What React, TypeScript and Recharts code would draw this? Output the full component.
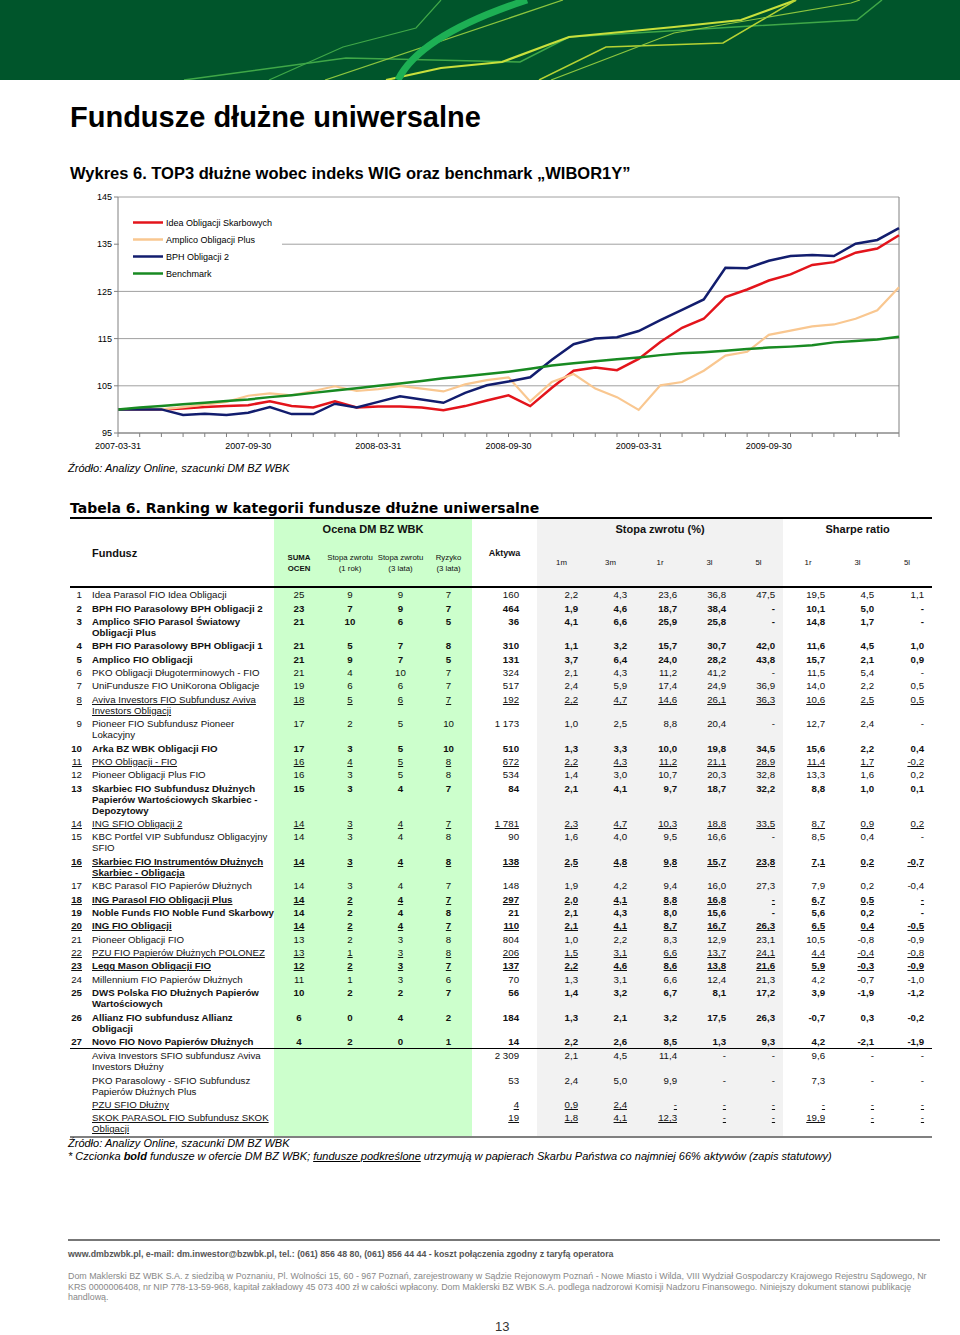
import React from "react";
import { LineChart, Line, XAxis, YAxis, CartesianGrid, Legend, ReferenceLine } from "recharts";

// month-end dates, 2007-03 .. 2010-03
const dates = [
  "2007-03-31", "2007-04-30", "2007-05-31", "2007-06-30", "2007-07-31", "2007-08-31",
  "2007-09-30", "2007-10-31", "2007-11-30", "2007-12-31", "2008-01-31", "2008-02-29",
  "2008-03-31", "2008-04-30", "2008-05-31", "2008-06-30", "2008-07-31", "2008-08-31",
  "2008-09-30", "2008-10-31", "2008-11-30", "2008-12-31", "2009-01-31", "2009-02-28",
  "2009-03-31", "2009-04-30", "2009-05-31", "2009-06-30", "2009-07-31", "2009-08-31",
  "2009-09-30", "2009-10-31", "2009-11-30", "2009-12-31", "2010-01-31", "2010-02-28",
  "2010-03-31",
];

const ideaObligacji = [
  100.0, 100.0, 100.0, 100.2, 100.5, 100.7, 100.9, 101.7, 100.7, 100.4, 101.7, 100.4,
  100.6, 100.6, 100.4, 99.8, 100.7, 101.9, 103.0, 100.7, 104.6, 108.2, 108.9, 108.3,
  110.7, 114.3, 117.3, 119.2, 123.8, 125.4, 127.3, 128.6, 130.6, 131.2, 133.2, 134.1,
  136.9,
];
const amplicoPlus = [
  100.0, 100.0, 100.0, 100.5, 101.0, 101.6, 102.9, 103.4, 103.0, 103.9, 104.9, 103.9,
  104.3, 105.0, 104.4, 103.8, 105.3, 106.2, 106.8, 101.7, 105.8, 107.5, 104.4, 102.6,
  99.9, 105.1, 105.8, 108.2, 111.4, 112.2, 115.8, 116.7, 117.6, 118.0, 119.2, 121.0,
  125.9,
];
const bphObligacji2 = [
  100.0, 100.0, 100.0, 98.8, 99.1, 98.8, 99.3, 100.5, 99.0, 99.0, 101.2, 100.4,
  101.6, 102.8, 102.1, 101.4, 103.5, 105.1, 105.9, 106.8, 110.5, 113.8, 115.0, 115.3,
  116.6, 118.9, 121.1, 123.3, 130.0, 129.9, 131.5, 132.5, 132.7, 132.5, 135.1, 135.9,
  138.4,
];
const benchmark = [
  100.0, 100.4, 100.7, 101.1, 101.4, 101.8, 102.1, 102.6, 103.0, 103.5, 104.0, 104.5,
  105.0, 105.5, 106.0, 106.6, 107.0, 107.5, 108.0, 108.6, 109.3, 109.8, 110.2, 110.6,
  111.0, 111.5, 111.9, 112.1, 112.4, 112.8, 113.1, 113.3, 113.6, 114.2, 114.5, 114.8,
  115.4,
];

const seriesNames = ["Idea Obligacji Skarbowych", "Amplico Obligacji Plus", "BPH Obligacji 2", "Benchmark"];
const yTicks = [95, 105, 115, 125, 135, 145];

const data = dates.map((d, i) => ({
  date: d,
  idea: ideaObligacji[i],
  amplico: amplicoPlus[i],
  bph: bphObligacji2[i],
  bench: benchmark[i],
}));

// table: rank, fund, suma, st.zw 1r, st.zw 3l, ryzyko, aktywa, 1m, 3m, 1r, 3l, 5l, sharpe 1r, 3l, 5l, style
type Row = string[];
const rankingRows: Row[] = [
  ["1", "Idea Parasol FIO Idea Obligacji", "25", "9", "9", "7", "160", "2,2", "4,3", "23,6", "36,8", "47,5", "19,5", "4,5", "1,1", ""],
  ["2", "BPH FIO Parasolowy BPH Obligacji 2", "23", "7", "9", "7", "464", "1,9", "4,6", "18,7", "38,4", "-", "10,1", "5,0", "-", "b"],
  ["3", "Amplico SFIO Parasol Światowy\nObligacji Plus", "21", "10", "6", "5", "36", "4,1", "6,6", "25,9", "25,8", "-", "14,8", "1,7", "-", "b"],
  ["4", "BPH FIO Parasolowy BPH Obligacji 1", "21", "5", "7", "8", "310", "1,1", "3,2", "15,7", "30,7", "42,0", "11,6", "4,5", "1,0", "b"],
  ["5", "Amplico FIO Obligacji", "21", "9", "7", "5", "131", "3,7", "6,4", "24,0", "28,2", "43,8", "15,7", "2,1", "0,9", "b"],
  ["6", "PKO Obligacji Długoterminowych - FIO", "21", "4", "10", "7", "324", "2,1", "4,3", "11,2", "41,2", "-", "11,5", "5,4", "-", ""],
  ["7", "UniFundusze FIO UniKorona Obligacje", "19", "6", "6", "7", "517", "2,4", "5,9", "17,4", "24,9", "36,9", "14,0", "2,2", "0,5", ""],
  ["8", "Aviva Investors FIO Subfundusz Aviva\nInvestors Obligacji", "18", "5", "6", "7", "192", "2,2", "4,7", "14,6", "26,1", "36,3", "10,6", "2,5", "0,5", "u"],
  ["9", "Pioneer FIO Subfundusz Pioneer\nLokacyjny", "17", "2", "5", "10", "1 173", "1,0", "2,5", "8,8", "20,4", "-", "12,7", "2,4", "-", ""],
  ["10", "Arka BZ WBK Obligacji FIO", "17", "3", "5", "10", "510", "1,3", "3,3", "10,0", "19,8", "34,5", "15,6", "2,2", "0,4", "b"],
  ["11", "PKO Obligacji - FIO", "16", "4", "5", "8", "672", "2,2", "4,3", "11,2", "21,1", "28,9", "11,4", "1,7", "-0,2", "u"],
  ["12", "Pioneer Obligacji Plus FIO", "16", "3", "5", "8", "534", "1,4", "3,0", "10,7", "20,3", "32,8", "13,3", "1,6", "0,2", ""],
  ["13", "Skarbiec FIO Subfundusz Dłużnych\nPapierów Wartościowych Skarbiec -\nDepozytowy", "15", "3", "4", "7", "84", "2,1", "4,1", "9,7", "18,7", "32,2", "8,8", "1,0", "0,1", "b"],
  ["14", "ING SFIO Obligacji 2", "14", "3", "4", "7", "1 781", "2,3", "4,7", "10,3", "18,8", "33,5", "8,7", "0,9", "0,2", "u"],
  ["15", "KBC Portfel VIP Subfundusz Obligacyjny\nSFIO", "14", "3", "4", "8", "90", "1,6", "4,0", "9,5", "16,6", "-", "8,5", "0,4", "-", ""],
  ["16", "Skarbiec FIO Instrumentów Dłużnych\nSkarbiec - Obligacja", "14", "3", "4", "8", "138", "2,5", "4,8", "9,8", "15,7", "23,8", "7,1", "0,2", "-0,7", "bu"],
  ["17", "KBC Parasol FIO Papierów Dłużnych", "14", "3", "4", "7", "148", "1,9", "4,2", "9,4", "16,0", "27,3", "7,9", "0,2", "-0,4", ""],
  ["18", "ING Parasol FIO Obligacji Plus", "14", "2", "4", "7", "297", "2,0", "4,1", "8,8", "16,8", "-", "6,7", "0,5", "-", "bu"],
  ["19", "Noble Funds FIO Noble Fund Skarbowy", "14", "2", "4", "8", "21", "2,1", "4,3", "8,0", "15,6", "-", "5,6", "0,2", "-", "b"],
  ["20", "ING FIO Obligacji", "14", "2", "4", "7", "110", "2,1", "4,1", "8,7", "16,7", "26,3", "6,5", "0,4", "-0,5", "bu"],
  ["21", "Pioneer Obligacji FIO", "13", "2", "3", "8", "804", "1,0", "2,2", "8,3", "12,9", "23,1", "10,5", "-0,8", "-0,9", ""],
  ["22", "PZU FIO Papierów Dłużnych POLONEZ", "13", "1", "3", "8", "206", "1,5", "3,1", "6,6", "13,7", "24,1", "4,4", "-0,4", "-0,8", "u"],
  ["23", "Legg Mason Obligacji FIO", "12", "2", "3", "7", "137", "2,2", "4,6", "8,6", "13,8", "21,6", "5,9", "-0,3", "-0,9", "bu"],
  ["24", "Millennium FIO Papierów Dłużnych", "11", "1", "3", "6", "70", "1,3", "3,1", "6,6", "12,4", "21,3", "4,2", "-0,7", "-1,0", ""],
  ["25", "DWS Polska FIO Dłużnych Papierów\nWartościowych", "10", "2", "2", "7", "56", "1,4", "3,2", "6,7", "8,1", "17,2", "3,9", "-1,9", "-1,2", "b"],
  ["26", "Allianz FIO subfundusz Allianz\nObligacji", "6", "0", "4", "2", "184", "1,3", "2,1", "3,2", "17,5", "26,3", "-0,7", "0,3", "-0,2", "b"],
  ["27", "Novo FIO Novo Papierów Dłużnych", "4", "2", "0", "1", "14", "2,2", "2,6", "8,5", "1,3", "9,3", "4,2", "-2,1", "-1,9", "b"],
];
const unratedRows: Row[] = [
  ["", "Aviva Investors SFIO subfundusz Aviva\nInvestors Dłużny", "", "", "", "", "2 309", "2,1", "4,5", "11,4", "-", "-", "9,6", "-", "-", ""],
  ["", "PKO Parasolowy - SFIO Subfundusz\nPapierów Dłużnych Plus", "", "", "", "", "53", "2,4", "5,0", "9,9", "-", "-", "7,3", "-", "-", ""],
  ["", "PZU SFIO Dłużny", "", "", "", "", "4", "0,9", "2,4", "-", "-", "-", "-", "-", "-", "u"],
  ["", "SKOK PARASOL FIO Subfundusz SKOK\nObligacji", "", "", "", "", "19", "1,8", "4,1", "12,3", "-", "-", "19,9", "-", "-", "u"],
];

const colWidths = [20, 184, 50, 52, 49, 47, 65, 49, 49, 50, 49, 49, 50, 49, 50];
const GREEN = "#CCFFCC";
const GREY = "#F2F2F2";

const renderLegend = (props: any) => {
  const items = [...(props.payload || [])].sort(
    (a: any, b: any) => seriesNames.indexOf(a.value) - seriesNames.indexOf(b.value)
  );
  return (
    <div style={{ background: "#fff", width: 163, padding: "4px 0" }}>
      {items.map((e: any) => (
        <div key={e.value} style={{ height: 17, display: "flex", alignItems: "center" }}>
          <svg width={44} height={17} style={{ display: "block" }}>
            <line x1={14} x2={44} y1={8.5} y2={8.5} stroke={e.color} strokeWidth={2.5} />
          </svg>
          <span style={{ fontSize: 9, marginLeft: 3, color: "#000", whiteSpace: "nowrap" }}>{e.value}</span>
        </div>
      ))}
    </div>
  );
};

function Chart() {
  const axis = { fontSize: 9, fill: "#000" };
  return (
    <LineChart width={860} height={275} data={data} margin={{ top: 12, right: 21, bottom: 5, left: 0 }}>
      <CartesianGrid vertical={false} stroke="#a0a0a0" />
      <XAxis
        dataKey="date"
        interval={0}
        tick={axis}
        tickSize={4}
        tickMargin={6}
        height={22}
        stroke="#808080"
        tickFormatter={(v: string, i: number) => (i % 6 === 0 && i < 36 ? v : "")}
      />
      <YAxis
        type="number"
        domain={[95, 145]}
        ticks={yTicks}
        tick={axis}
        tickSize={4}
        tickMargin={2}
        width={58}
        stroke="#808080"
      />
      <ReferenceLine x={dates[dates.length - 1]} stroke="#808080" />
      <Legend
        layout="vertical"
        align="center"
        verticalAlign="middle"
        wrapperStyle={{ left: 59, top: 25, width: 163 }}
        content={renderLegend}
      />
      <Line type="linear" dataKey="idea" name={seriesNames[0]} stroke="#E3141B" strokeWidth={2.5} dot={false} isAnimationActive={false} />
      <Line type="linear" dataKey="amplico" name={seriesNames[1]} stroke="#F9C790" strokeWidth={2.2} dot={false} isAnimationActive={false} />
      <Line type="linear" dataKey="bph" name={seriesNames[2]} stroke="#121D6E" strokeWidth={2.5} dot={false} isAnimationActive={false} />
      <Line type="linear" dataKey="bench" name={seriesNames[3]} stroke="#188A22" strokeWidth={2.5} dot={false} isAnimationActive={false} />
    </LineChart>
  );
}

function HeaderBand() {
  return (
    <svg width={960} height={80} style={{ position: "absolute", left: 0, top: 0 }}>
      <rect width={960} height={80} fill="#00552B" />
      <polyline points="184,80 346,58 520,62 569,37 735,27 857,20 882,0" fill="none" stroke="#3FA848" strokeWidth={1.5} />
      <polyline points="269,80 343,47 416,28 441,0" fill="none" stroke="#3FA848" strokeWidth={1.2} />
      <polyline points="325,80 563,0" fill="none" stroke="#8CC63F" strokeWidth={1.3} />
      <polyline points="386,80 441,68 502,62 569,37 674,27 741,20 796,0" fill="none" stroke="#C8E03C" strokeWidth={2.2} />
      <polyline points="539,80 606,47 723,43 796,0" fill="none" stroke="#B5D334" strokeWidth={1.5} />
      <polyline points="551,80 674,33 851,3 860,0" fill="none" stroke="#8CC63F" strokeWidth={1.2} />
      <path d="M398,80 Q420,35 527,0" fill="none" stroke="#1DB054" strokeWidth={7} />
    </svg>
  );
}

function cellStyle(col: number, flags: string): React.CSSProperties {
  const s: React.CSSProperties = {
    padding: "1.2px 0",
    lineHeight: "11px",
    verticalAlign: "top",
    whiteSpace: "pre",
    fontWeight: flags.includes("b") ? 700 : 400,
    textDecoration: flags.includes("u") ? "underline" : "none",
  };
  if (col === 0) { s.textAlign = "right"; s.paddingRight = 8; }
  else if (col === 1) { s.textAlign = "left"; s.paddingLeft = 2; }
  else if (col >= 2 && col <= 5) { s.textAlign = "center"; s.background = GREEN; }
  else if (col === 6) { s.textAlign = "right"; s.paddingRight = 18; }
  else { s.textAlign = "right"; s.paddingRight = 8; }
  if (col >= 7 && col <= 11) s.background = GREY;
  return s;
}

function RankingTable() {
  const sub: React.CSSProperties = { fontSize: 7.8, lineHeight: "11px", textAlign: "center", verticalAlign: "middle", whiteSpace: "pre" };
  const hdr: React.CSSProperties = { fontSize: 11, fontWeight: 700, textAlign: "center", verticalAlign: "middle", height: 18 };
  const bottom = "2px solid #000";
  const body = (rows: Row[], last: string) =>
    rows.map((r, ri) => (
      <tr key={r[1]}>
        {r.slice(0, 15).map((c, ci) => {
          const st = cellStyle(ci, r[15]);
          if (ri === rows.length - 1) st.borderBottom = last;
          return <td key={ci} style={st}>{c}</td>;
        })}
      </tr>
    ));
  return (
    <table
      style={{
        position: "absolute", left: 70, top: 519, width: 862, borderCollapse: "collapse",
        tableLayout: "fixed", fontSize: 9.7, color: "#111",
      }}
    >
      <colgroup>
        {colWidths.map((w, i) => <col key={i} style={{ width: w }} />)}
      </colgroup>
      <thead>
        <tr>
          <th rowSpan={2} style={{ borderBottom: bottom }} />
          <th rowSpan={2} style={{ ...hdr, textAlign: "left", paddingLeft: 2, borderBottom: bottom }}>Fundusz</th>
          <th colSpan={4} style={{ ...hdr, background: GREEN }}>Ocena DM BZ  WBK</th>
          <th rowSpan={2} style={{ ...hdr, fontSize: 9, borderBottom: bottom }}>Aktywa</th>
          <th colSpan={5} style={{ ...hdr, background: GREY }}>Stopa zwrotu (%)</th>
          <th colSpan={3} style={hdr}>Sharpe ratio</th>
        </tr>
        <tr style={{ height: 48 }}>
          <th style={{ ...sub, fontWeight: 700, background: GREEN, borderBottom: bottom }}>{"SUMA\nOCEN"}</th>
          <th style={{ ...sub, fontWeight: 400, background: GREEN, borderBottom: bottom }}>{"Stopa zwrotu\n(1 rok)"}</th>
          <th style={{ ...sub, fontWeight: 400, background: GREEN, borderBottom: bottom }}>{"Stopa zwrotu\n(3 lata)"}</th>
          <th style={{ ...sub, fontWeight: 400, background: GREEN, borderBottom: bottom }}>{"Ryzyko\n(3 lata)"}</th>
          {["1m", "3m", "1r", "3l", "5l"].map((t) => (
            <th key={"g" + t} style={{ ...sub, fontWeight: 400, background: GREY, borderBottom: bottom }}>{t}</th>
          ))}
          {["1r", "3l", "5l"].map((t) => (
            <th key={"s" + t} style={{ ...sub, fontWeight: 400, borderBottom: bottom }}>{t}</th>
          ))}
        </tr>
      </thead>
      <tbody>
        {body(rankingRows, "1px solid #000")}
        {body(unratedRows, "2.5px solid #808080")}
      </tbody>
    </table>
  );
}

const abs = (left: number, top: number, extra: React.CSSProperties = {}): React.CSSProperties => ({
  position: "absolute", left, top, whiteSpace: "nowrap", ...extra,
});

export default function App() {
  return (
    <div
      style={{
        position: "absolute", left: 0, top: 0, width: 960, height: 1335, background: "#fff",
        fontFamily: '"Liberation Sans", Arial, sans-serif', color: "#000", overflow: "hidden",
      }}
    >
      <HeaderBand />
      <div style={abs(70, 103, { fontSize: 29, fontWeight: 700, lineHeight: "29px" })}>Fundusze dłużne uniwersalne</div>
      <div style={abs(70, 165, { fontSize: 16.5, fontWeight: 700, lineHeight: "16px" })}>
        Wykres 6. TOP3 dłużne wobec indeks WIG oraz benchmark „WIBOR1Y”
      </div>
      <div style={{ position: "absolute", left: 60, top: 185 }}>
        <Chart />
      </div>
      <div style={abs(68, 461.5, { fontSize: 11, fontStyle: "italic", lineHeight: "13px" })}>
        Źródło: Analizy Online, szacunki DM BZ WBK
      </div>

      <div style={abs(70, 501, { fontSize: 14, fontWeight: 700, lineHeight: "14px", fontFamily: '"DejaVu Sans", Verdana, sans-serif' })}>
        Tabela 6. Ranking w kategorii fundusze dłużne uniwersalne
      </div>
      <div style={{ position: "absolute", left: 70, top: 517, width: 862, height: 2, background: "#000" }} />
      <RankingTable />
      <div style={abs(68, 1137, { fontSize: 11, fontStyle: "italic", lineHeight: "13px" })}>
        Źródło: Analizy Online, szacunki DM BZ WBK
        <br />
        * Czcionka <b>bold</b> fundusze w ofercie DM BZ WBK; <u>fundusze podkreślone</u> utrzymują w papierach Skarbu Państwa co najmniej 66% aktywów (zapis statutowy)
      </div>

      <div style={{ position: "absolute", left: 68, top: 1239, width: 872, height: 1.5, background: "#777" }} />
      <div style={abs(68, 1249, { fontSize: 8.8, fontWeight: 700, lineHeight: "10px", color: "#555" })}>
        www.dmbzwbk.pl, e-mail: dm.inwestor@bzwbk.pl, tel.: (061) 856 48 80, (061) 856 44 44 - koszt połączenia zgodny z taryfą operatora
      </div>
      <div style={abs(68, 1271, { fontSize: 8.9, lineHeight: "10.5px", color: "#888" })}>
        Dom Maklerski BZ WBK S.A. z siedzibą w Poznaniu, Pl. Wolności 15, 60 - 967 Poznań, zarejestrowany w Sądzie Rejonowym Poznań - Nowe Miasto i Wilda, VIII Wydział Gospodarczy Krajowego Rejestru Sądowego, Nr
        <br />
        KRS 0000006408, nr NIP 778-13-59-968, kapitał zakładowy 45 073 400 zł w całości wpłacony. Dom Maklerski BZ WBK S.A. podlega nadzorowi Komisji Nadzoru Finansowego. Niniejszy dokument stanowi publikację
        <br />
        handlową.
      </div>
      <div style={abs(495, 1320, { fontSize: 13, lineHeight: "14px", color: "#333" })}>13</div>
    </div>
  );
}
